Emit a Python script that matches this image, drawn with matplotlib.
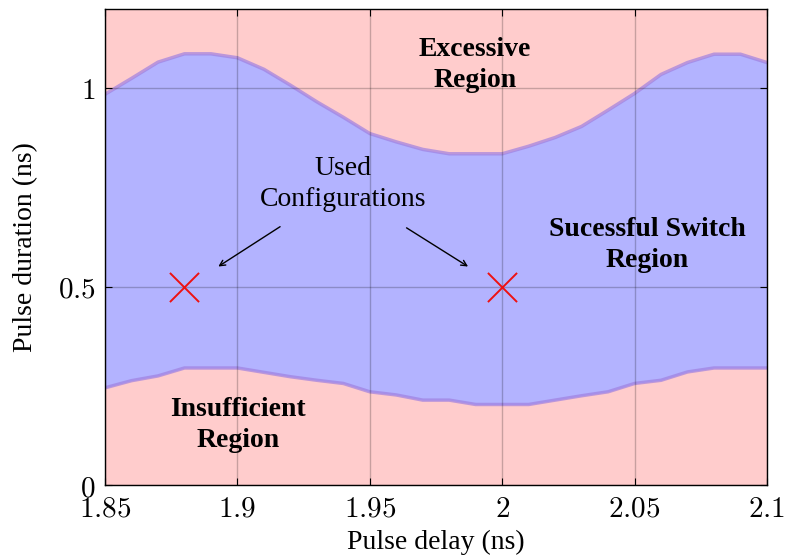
import matplotlib.pyplot as plt
import numpy as np

plt.rcParams['mathtext.fontset'] = 'cm'

# Boundary curves of the successful switching region
delay = [1.85, 1.86, 1.87, 1.88, 1.89, 1.90, 1.91, 1.92, 1.93, 1.94, 1.95, 1.96, 1.97,
         1.98, 1.99, 2.00, 2.01, 2.02, 2.03, 2.04, 2.05, 2.06, 2.07, 2.08, 2.09, 2.10]
upper = [0.985, 1.025, 1.066, 1.087, 1.087, 1.077, 1.048, 1.008, 0.966, 0.927, 0.886, 0.865, 0.846,
         0.835, 0.835, 0.835, 0.854, 0.876, 0.904, 0.945, 0.987, 1.035, 1.065, 1.086, 1.086, 1.065]
lower = [0.245, 0.263, 0.275, 0.295, 0.295, 0.295, 0.284, 0.273, 0.264, 0.256, 0.235, 0.227, 0.214,
         0.214, 0.203, 0.203, 0.203, 0.214, 0.225, 0.235, 0.256, 0.264, 0.285, 0.295, 0.295, 0.295]

used_delay = [1.88, 2.00]
used_duration = [0.5, 0.5]

xticks = [1.85, 1.9, 1.95, 2.0, 2.05, 2.1]
xticklabels = ['1.85', '1.9', '1.95', '2', '2.05', '2.1']
yticks = [0, 0.5, 1]
yticklabels = ['0', '0.5', '1']

fig = plt.figure(figsize=(7.85, 5.58), dpi=100)
ax = fig.add_axes([0.1338, 0.1308, 0.977 - 0.1338, 0.9839 - 0.1308])

ax.set_xlim(1.85, 2.1)
ax.set_ylim(0, 1.2)

ax.set_facecolor('#ffcccc')
ax.fill_between(delay, lower, upper, color='#b3b3ff', lw=0, zorder=1)
ax.plot(delay, upper, color='#a080e0', lw=2.5, alpha=0.7, zorder=2)
ax.plot(delay, lower, color='#a080e0', lw=2.5, alpha=0.7, zorder=2)

ax.grid(True, color='black', alpha=0.22, lw=1.0, zorder=3)
ax.set_axisbelow(False)

ax.scatter(used_delay, used_duration, marker='x', s=440, color='#ee1111', lw=1.4, zorder=5)

ax.set_xticks(xticks)
ax.set_xticklabels(['$' + t + '$' for t in xticklabels], fontsize=21)
ax.set_yticks(yticks)
ax.set_yticklabels(['$' + t + '$' for t in yticklabels], fontsize=21)
ax.tick_params(direction='in', top=True, right=True, length=5, width=0.8, pad=7)
for s in ax.spines.values():
    s.set_linewidth(1.0)
    s.set_zorder(6)

serif = ['Liberation Serif', 'DejaVu Serif']
ax.set_xlabel('Pulse delay (ns)', fontsize=20, family=serif, labelpad=5)
ax.set_ylabel('Pulse duration (ns)', fontsize=20, family=serif, labelpad=14)

ax.text(1.9897, 1.058, 'Excessive\nRegion', ha='center', va='center', fontsize=20,
        fontweight='bold', family=serif, linespacing=1.3, zorder=7)
ax.text(2.0547, 0.605, 'Sucessful Switch\nRegion', ha='center', va='center', fontsize=20,
        fontweight='bold', family=serif, linespacing=1.3, zorder=7)
ax.text(1.9002, 0.151, 'Insufficient\nRegion', ha='center', va='center', fontsize=20,
        fontweight='bold', family=serif, linespacing=1.3, zorder=7)
ax.text(1.9399, 0.758, 'Used\nConfigurations', ha='center', va='center', fontsize=20,
        family=serif, linespacing=1.3, zorder=7)

ax.annotate('', xy=(1.8919, 0.547), xytext=(1.917, 0.655),
            arrowprops=dict(arrowstyle='->', color='black', lw=1.0), zorder=7)
ax.annotate('', xy=(1.988, 0.547), xytext=(1.963, 0.652),
            arrowprops=dict(arrowstyle='->', color='black', lw=1.0), zorder=7)

fig.savefig('out.png', dpi=100)
